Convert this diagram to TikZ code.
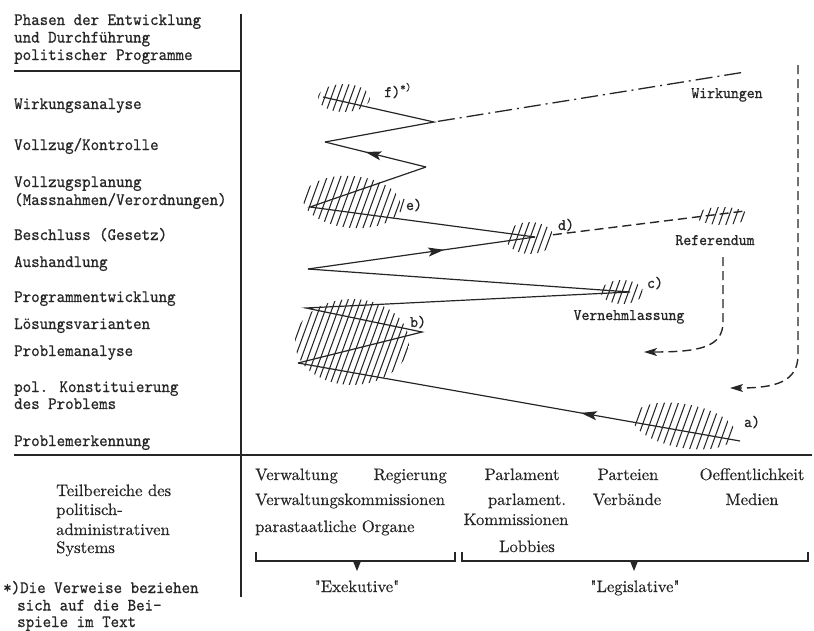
\documentclass[tikz,border=0pt]{standalone}
\usepackage{fontspec}
\newfontfamily\twfont[FakeBold=0.7, FakeStretch=0.93]{lmmono10-regular.otf}
\newfontfamily\rmbfont[FakeBold=0.5]{lmroman10-regular.otf}
\usetikzlibrary{arrows.meta,decorations.markings}
\definecolor{ink}{HTML}{262626}
\newcommand\hatchblob[6]{%
  \begin{scope}
    \clip[rotate around={#5:(#1,#2)}] (#1,#2) ellipse [x radius=#3pt, y radius=#4pt];
    \foreach \k in {-14,...,14} {
      \draw[hatch] ({#1+\k*#6-0.364*60},{#2+60}) -- ({#1+\k*#6+0.364*60},{#2-60});
    }
  \end{scope}}
\begin{document}
\begin{tikzpicture}[x=1pt,y=-1pt,
  lab/.style={anchor=base west, inner sep=0pt, font=\fontsize{17.4}{19}\selectfont\twfont, text=ink},
  ilab/.style={anchor=base, inner sep=0pt, font=\fontsize{16.2}{18}\selectfont\twfont, text=ink},
  blab/.style={anchor=base, inner sep=0pt, font=\fontsize{16.6}{19}\selectfont\rmbfont, text=ink},
  blabw/.style={blab, anchor=base west},
  rulethick/.style={draw=ink, line width=1.8pt},
  rulethin/.style={draw=ink, line width=1.3pt},
  zz/.style={draw=ink, line width=1.2pt, line join=miter},
  hatch/.style={draw=ink, line width=1.05pt},
  dsh/.style={draw=ink, line width=1.4pt, dash pattern=on 9pt off 5pt},
  dashdot/.style={draw=ink, line width=1.3pt, dash pattern=on 17pt off 5pt on 2pt off 5pt},
  tipA/.style={-{Stealth[length=13pt,width=8pt,inset=3pt]}},
  midarrow/.style={postaction={decorate}, decoration={markings, mark=at position #1 with {\arrow{Stealth[length=16pt,width=9pt,inset=3.5pt]}}}},
  brk/.style={draw=ink, line width=1.4pt}
]
\useasboundingbox (0,0) rectangle (814,630);

% frame lines
\coordinate (hl0) at (14,71);  \coordinate (hl1) at (241,71);
\coordinate (bl0) at (14,455); \coordinate (bl1) at (812,455);
\coordinate (vl0) at (241,14); \coordinate (vl1) at (241,597);
\draw[rulethick] (hl0) -- (hl1);
\draw[rulethick] (bl0) -- (bl1);
\draw[rulethin] (vl0) -- (vl1);

% header and phases
\node[lab] (h1) at (14,25) {Phasen der Entwicklung};
\node[lab] (h2) at (14,42.5) {und Durchführung};
\node[lab] (h3) at (14,60) {politischer Programme};
\node[lab] (p1) at (14,109) {Wirkungsanalyse};
\node[lab] (p2) at (14,150) {Vollzug/Kontrolle};
\node[lab] (p3) at (14,187) {Vollzugsplanung};
\node[lab] (p3b) at (14,205) {(Massnahmen/Verordnungen)};
\node[lab] (p4) at (14,240) {Beschluss (Gesetz)};
\node[lab] (p5) at (14,267) {Aushandlung};
\node[lab] (p6) at (14,302) {Programmentwicklung};
\node[lab] (p7) at (14,329) {Lösungsvarianten};
\node[lab] (p8) at (14,356) {Problemanalyse};
\node[lab] (p9) at (14,392) {pol. Konstituierung};
\node[lab] (p9b) at (14,409) {des Problems};
\node[lab] (p10) at (14,446) {Problemerkennung};

% zigzag vertices
\coordinate (a0) at (740,441);
\coordinate (b1) at (298,363);
\coordinate (b2) at (422,332);
\coordinate (b3) at (306,308);
\coordinate (c1) at (630,292);
\coordinate (c2) at (308,269);
\coordinate (d1) at (535,237);
\coordinate (e1) at (310,207);
\coordinate (e2) at (426,167);
\coordinate (e3) at (325,142);
\coordinate (f1) at (434,122);
\coordinate (f2) at (323,97);
\coordinate (wk) at (745,72);
\coordinate (r1) at (745,211);
\coordinate (rd0) at (723,257);
\coordinate (rdt) at (644,352);
\coordinate (rt0) at (798,65);
\coordinate (rtt) at (730,388);

% hatched areas
\hatchblob{684}{426}{52}{22}{-10}{7}
\hatchblob{352}{342}{57}{43}{0}{6.4}
\hatchblob{622}{292}{21}{12}{0}{6.5}
\hatchblob{530}{238}{24}{16}{0}{6.5}
\hatchblob{352}{202}{49}{26}{-5}{6.8}
\hatchblob{344}{98}{26}{14}{0}{6.5}
\hatchblob{722}{216}{26}{9}{0}{7}
\coordinate (es0) at (400,212); \coordinate (es1) at (404,199);
\draw[hatch] (es0) -- (es1);

% solid path
\draw[zz, midarrow=0.36] (a0) -- (b1);
\draw[zz] (b1) -- (b2) -- (b3) -- (c1) -- (c2);
\draw[zz, midarrow=0.6] (c2) -- (d1);
\draw[zz] (d1) -- (e1) -- (e2);
\draw[zz, midarrow=0.6] (e2) -- (e3);
\draw[zz] (e3) -- (f1) -- (f2);

% dashed and dash-dotted
\draw[dashdot, shorten <=4pt] (f1) -- (wk);
\draw[dsh, shorten <=18pt] (d1) -- (r1);
\draw[dsh, tipA] (rd0) -- (723,322) .. controls (723,347) and (700,352) .. (rdt);
\draw[dsh, tipA] (rt0) -- (798,355) .. controls (798,382) and (775,388) .. (rtt);

% inner labels
\node[ilab] (la) at (752,427) {a)};
\node[ilab] (lb) at (418,327) {b)};
\node[ilab] (lc) at (655,288) {c)};
\node[ilab] (ld) at (566,230) {d)};
\node[ilab] (le) at (414,210) {e)};
\node[ilab] (lf) at (398,97) {f)\textsuperscript{*)}};
\node[ilab] (lw) at (727,98) {Wirkungen};
\node[ilab] (lr) at (715,245) {Referendum};
\node[ilab] (lv) at (629,320) {Vernehmlassung};

% bottom part
\node[blabw] (t1) at (56,496) {Teilbereiche des};
\node[blabw] (t2) at (56,515) {politisch-};
\node[blabw] (t3) at (56,535) {administrativen};
\node[blabw] (t4) at (56,553) {Systems};

\node[blabw] (s1) at (255,480) {Verwaltung};
\node[blab, anchor=base east] (s2) at (447,480) {Regierung};
\node[blabw] (s3) at (255,505) {Verwaltungskommissionen};
\node[blabw] (s4) at (255,532) {parastaatliche Organe};
\node[blab] (s5) at (522,480) {Parlament};
\node[blab] (s6) at (527,505) {parlament.};
\node[blab] (s7) at (516,525) {Kommissionen};
\node[blab] (s8) at (527,552) {Lobbies};
\node[blab] (s9) at (628,480) {Parteien};
\node[blab] (s10) at (627,505) {Verbände};
\node[blab] (s11) at (752,480) {Oeffentlichkeit};
\node[blab] (s12) at (752,505) {Medien};

\coordinate (k0) at (256,552); \coordinate (k1) at (256,561);
\coordinate (k2) at (455,561); \coordinate (k3) at (455,552);
\coordinate (m0) at (462,552); \coordinate (m1) at (462,561);
\coordinate (m2) at (808,561); \coordinate (m3) at (808,552);
\draw[brk] (k0) -- (k1) -- (k2) -- (k3);
\draw[brk] (m0) -- (m1) -- (m2) -- (m3);
\fill[ink] (353,561) -- (361,561) -- (357,571) -- cycle;
\fill[ink] (630,561) -- (638,561) -- (634,571) -- cycle;
\node[blab] (ex) at (357,592) {\textquotedbl Exekutive\textquotedbl};
\node[blab] (lg) at (635,592) {\textquotedbl Legislative\textquotedbl};

\node[lab] (n1) at (3,593) {*)Die Verweise beziehen};
\node[lab] (n2) at (17,610.5) {sich auf die Bei-};
\node[lab] (n3) at (17,627) {spiele im Text};
\end{tikzpicture}
\end{document}
